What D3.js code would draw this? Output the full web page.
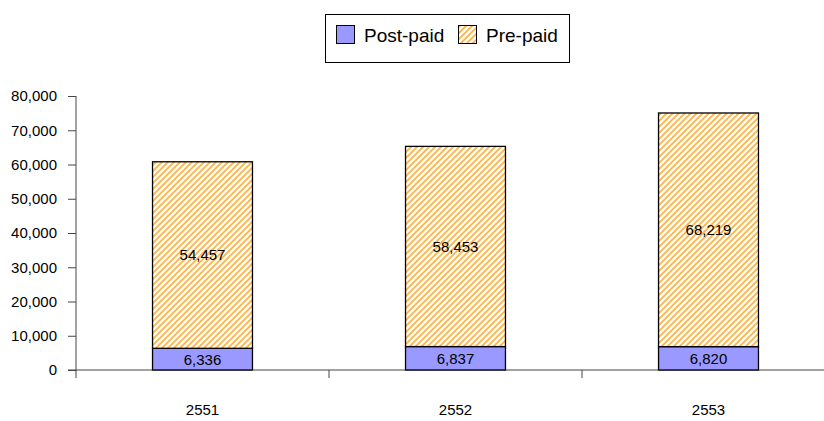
<!DOCTYPE html>
<html>
<head>
<meta charset="utf-8">
<script src="https://cdn.jsdelivr.net/npm/d3@7"></script>
<style>
  html, body { margin: 0; padding: 0; background: #fff; }
  svg { display: block; font-family: Arial, "Liberation Sans", sans-serif; }
</style>
</head>
<body>
<svg id="chart" width="824" height="421"></svg>
<script>
// Subscriber numbers by year (thousands)
const years = ["2551", "2552", "2553"];
const postPaid = [6336, 6837, 6820];
const prePaid = [54457, 58453, 68219];
const seriesNames = ["Post-paid", "Pre-paid"];
const yTicks = [0, 10000, 20000, 30000, 40000, 50000, 60000, 70000, 80000];

const svg = d3.select("#chart");
const margin = { left: 76, top: 96, bottom: 370 };
const bandW = 253;
const fontSize = 15;

const x = d3.scaleBand()
  .domain(years)
  .range([margin.left, margin.left + bandW * years.length])
  .paddingInner(0.605)
  .paddingOuter(0.3025);

const y = d3.scaleLinear().domain([0, 80000]).range([margin.bottom, margin.top]);

// Diagonal orange hatch for the pre-paid segment
const defs = svg.append("defs");
const pat = defs.append("pattern")
  .attr("id", "hatch")
  .attr("patternUnits", "userSpaceOnUse")
  .attr("width", 6).attr("height", 6);
pat.append("rect").attr("width", 6).attr("height", 6).attr("fill", "#fff");
pat.append("path")
  .attr("d", "M-1,7 L7,-1 M-4,4 L4,-4 M2,10 L10,2")
  .attr("stroke", "#FFB347").attr("stroke-width", 1.8);

const rows = years.map((yr, i) => ({ year: yr, "Post-paid": postPaid[i], "Pre-paid": prePaid[i] }));
const stacked = d3.stack().keys(seriesNames)(rows);
const fills = { "Post-paid": "#9999FF", "Pre-paid": "url(#hatch)" };

// Axes
const axisColor = "#444";
const gy = svg.append("g").attr("transform", `translate(${margin.left},0)`)
  .call(d3.axisLeft(y).tickValues(yTicks).tickFormat(d3.format(",")).tickSize(8).tickPadding(11));
gy.select(".domain").attr("stroke", axisColor).attr("d", `M0,${margin.bottom + 8}V${margin.top}`);
gy.selectAll(".tick line").attr("stroke", axisColor);
gy.selectAll("text").attr("font-size", fontSize).attr("fill", "#000").attr("font-family", "Arial, 'Liberation Sans', sans-serif");

const xEnd = margin.left + bandW * years.length;
const gx = svg.append("g").attr("transform", `translate(0,${margin.bottom})`);
gx.append("line").attr("x1", margin.left - 8).attr("x2", xEnd).attr("stroke", axisColor);
d3.range(1, years.length).forEach(k => {
  gx.append("line").attr("x1", margin.left + bandW * k).attr("x2", margin.left + bandW * k)
    .attr("y1", 0).attr("y2", 8).attr("stroke", axisColor);
});
gx.selectAll("text.cat").data(years).enter().append("text")
  .attr("x", d => x(d) + x.bandwidth() / 2)
  .attr("y", 45)
  .attr("text-anchor", "middle")
  .attr("font-size", fontSize)
  .text(d => d);

// Stacked bars
stacked.forEach(layer => {
  const g = svg.append("g");
  g.selectAll("rect").data(layer).enter().append("rect")
    .attr("x", d => x(d.data.year))
    .attr("width", x.bandwidth())
    .attr("y", d => y(d[1]))
    .attr("height", d => y(d[0]) - y(d[1]))
    .attr("fill", fills[layer.key])
    .attr("stroke", "#000").attr("stroke-width", 1.3);
  g.selectAll("text").data(layer).enter().append("text")
    .attr("x", d => x(d.data.year) + x.bandwidth() / 2)
    .attr("y", d => (y(d[0]) + y(d[1])) / 2)
    .attr("dy", "0.36em")
    .attr("text-anchor", "middle")
    .attr("font-size", fontSize)
    .text(d => d3.format(",")(d.data[layer.key]));
});

// Legend
const lg = svg.append("g");
lg.append("rect").attr("x", 325.5).attr("y", 14.5).attr("width", 244).attr("height", 48)
  .attr("fill", "#fff").attr("stroke", "#000");
const legendX = [336, 458];
seriesNames.forEach((name, i) => {
  lg.append("rect").attr("x", legendX[i] + 0.5).attr("y", 25.5).attr("width", 18).attr("height", 18)
    .attr("fill", fills[name]).attr("stroke", "#000");
  lg.append("text").attr("x", legendX[i] + 28).attr("y", 35).attr("dy", "0.36em")
    .attr("font-size", 19).text(name);
});
</script>
</body>
</html>
